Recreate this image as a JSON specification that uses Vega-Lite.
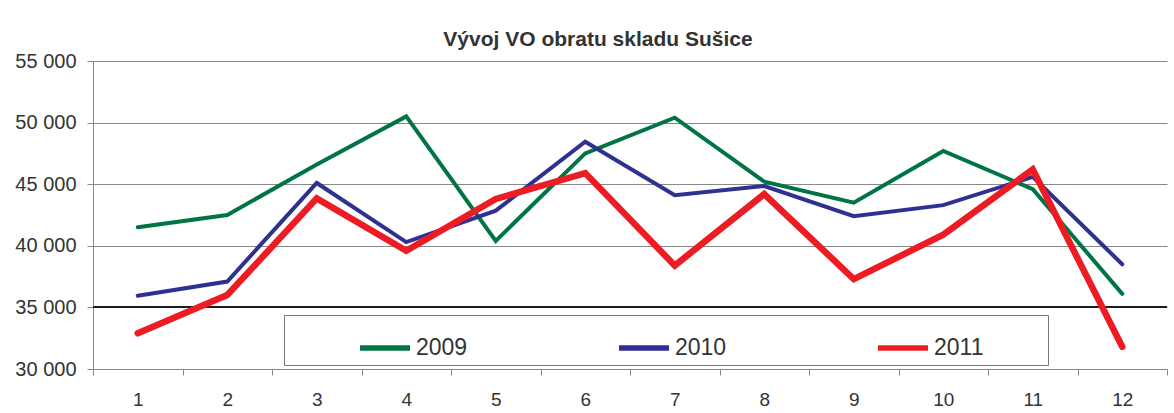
{
  "$schema": "https://vega.github.io/schema/vega-lite/v6.json",
  "width": 1074,
  "height": 308,
  "autosize": {"type": "none"},
  "padding": {"left": 93, "top": 61, "right": 7, "bottom": 44},
  "background": "white",
  "title": {
    "text": "Vývoj VO obratu skladu Sušice",
    "fontSize": 21,
    "font": "Liberation Sans",
    "fontWeight": "bold",
    "color": "#333333",
    "anchor": "middle",
    "dx": -32,
    "dy": 30,
    "offset": 14,
    "baseline": "alphabetic"
  },
  "data": {
    "values": [
      {"month": 1, "year": "2009", "value": 41500},
      {"month": 2, "year": "2009", "value": 42500},
      {"month": 3, "year": "2009", "value": 46600},
      {"month": 4, "year": "2009", "value": 50500},
      {"month": 5, "year": "2009", "value": 40400},
      {"month": 6, "year": "2009", "value": 47500},
      {"month": 7, "year": "2009", "value": 50400},
      {"month": 8, "year": "2009", "value": 45200},
      {"month": 9, "year": "2009", "value": 43500},
      {"month": 10, "year": "2009", "value": 47700},
      {"month": 11, "year": "2009", "value": 44600},
      {"month": 12, "year": "2009", "value": 36100},
      {"month": 1, "year": "2010", "value": 35950},
      {"month": 2, "year": "2010", "value": 37100},
      {"month": 3, "year": "2010", "value": 45100},
      {"month": 4, "year": "2010", "value": 40300},
      {"month": 5, "year": "2010", "value": 42850},
      {"month": 6, "year": "2010", "value": 48450},
      {"month": 7, "year": "2010", "value": 44100},
      {"month": 8, "year": "2010", "value": 44850},
      {"month": 9, "year": "2010", "value": 42400},
      {"month": 10, "year": "2010", "value": 43300},
      {"month": 11, "year": "2010", "value": 45600},
      {"month": 12, "year": "2010", "value": 38500},
      {"month": 1, "year": "2011", "value": 32900},
      {"month": 2, "year": "2011", "value": 36000},
      {"month": 3, "year": "2011", "value": 43850},
      {"month": 4, "year": "2011", "value": 39600},
      {"month": 5, "year": "2011", "value": 43800},
      {"month": 6, "year": "2011", "value": 45900},
      {"month": 7, "year": "2011", "value": 38400},
      {"month": 8, "year": "2011", "value": 44200},
      {"month": 9, "year": "2011", "value": 37300},
      {"month": 10, "year": "2011", "value": 40900},
      {"month": 11, "year": "2011", "value": 46200},
      {"month": 12, "year": "2011", "value": 31800}
    ]
  },
  "encoding": {
    "x": {
      "field": "month",
      "type": "ordinal",
      "bandPosition": 0.5,
      "scale": {"type": "band", "paddingInner": 0, "paddingOuter": 0},
      "axis": {
        "title": null,
        "labelAngle": 0,
        "tickBand": "extent",
        "grid": false,
        "domainColor": "#888888",
        "tickColor": "#888888",
        "tickSize": 6,
        "labelFontSize": 19,
        "labelFont": "Liberation Sans",
        "labelColor": "#333333",
        "labelPadding": 15,
        "labelBaseline": "top"
      }
    },
    "y": {
      "field": "value",
      "type": "quantitative",
      "scale": {"domain": [30000, 55000], "nice": false, "zero": false},
      "axis": {
        "title": null,
        "values": [30000, 35000, 40000, 45000, 50000, 55000],
        "grid": true,
        "gridColor": "#888888",
        "domainColor": "#888888",
        "tickColor": "#888888",
        "tickSize": 6,
        "labelPadding": 11,
        "labelFontSize": 20,
        "labelFont": "Liberation Sans",
        "labelColor": "#333333",
        "labelExpr": "replace(format(datum.value, ','), ',', ' ')"
      }
    },
    "color": {
      "field": "year",
      "type": "nominal",
      "scale": {"domain": ["2009", "2010", "2011"], "range": ["#007443", "#2e3192", "#ed1c24"]},
      "legend": {
        "orient": "none",
        "legendX": 191,
        "legendY": 254,
        "direction": "horizontal",
        "title": " ",
        "titleOrient": "right",
        "titlePadding": 60,
        "strokeColor": "#777777",
        "padding": 5,
        "symbolType": "stroke",
        "symbolSize": 2500,
        "symbolOffset": 68,
        "symbolStrokeWidth": 5.5,
        "labelFontSize": 23,
        "labelFont": "Liberation Sans",
        "labelColor": "#333333",
        "labelOffset": 3,
        "columnPadding": 80
      }
    }
  },
  "layer": [
    {
      "mark": {"type": "rule", "color": "#222222", "strokeWidth": 1},
      "encoding": {
        "x": null,
        "color": null,
        "y": {"datum": 35000, "type": "quantitative"}
      }
    },
    {
      "transform": [{"filter": "datum.year != '2011'"}],
      "mark": {"type": "line", "strokeCap": "round", "strokeJoin": "miter", "strokeWidth": 4}
    },
    {
      "transform": [{"filter": "datum.year == '2011'"}],
      "mark": {"type": "line", "strokeCap": "round", "strokeJoin": "miter", "strokeWidth": 6.5}
    }
  ],
  "config": {
    "view": {"stroke": null}
  }
}
